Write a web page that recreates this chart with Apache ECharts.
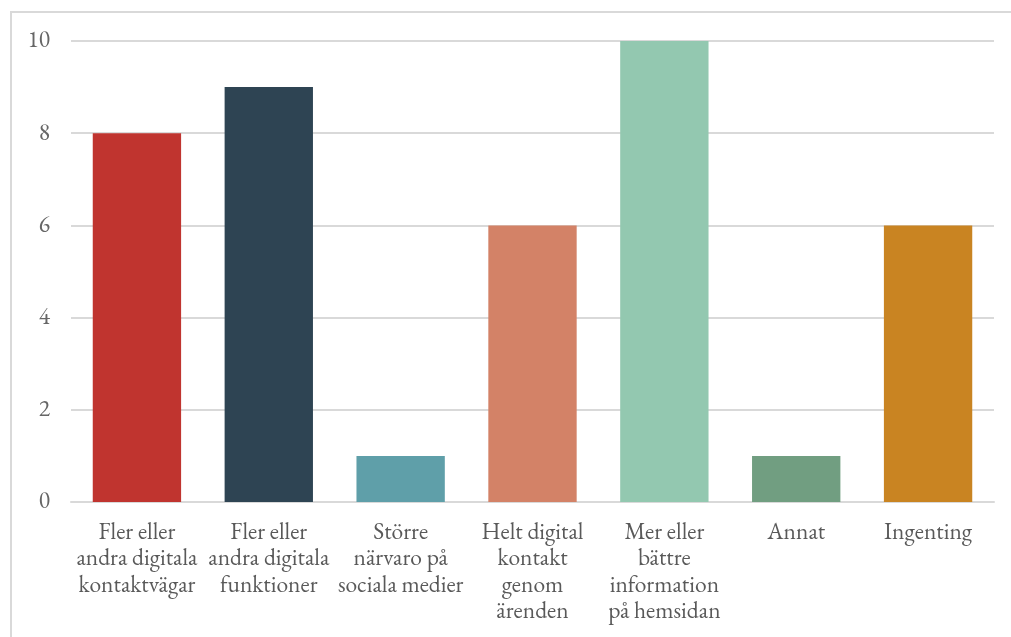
<!DOCTYPE html>
<html>
<head>
<meta charset="utf-8">
<script src="https://cdn.jsdelivr.net/npm/echarts@6/dist/echarts.min.js"></script>
<style>
  html, body { margin: 0; padding: 0; background: #fff; }
  #chart { width: 1011px; height: 637px; }
</style>
</head>
<body>
<div id="chart"></div>
<script>
// Categories (line breaks as displayed under each bar)
const categories = [
  'Fler eller\nandra digitala\nkontaktvägar',
  'Fler eller\nandra digitala\nfunktioner',
  'Större\nnärvaro på\nsociala medier',
  'Helt digital\nkontakt\ngenom\närenden',
  'Mer eller\nbättre\ninformation\npå hemsidan',
  'Annat',
  'Ingenting'
];
const values = [8, 9, 1, 6, 10, 1, 6];
const barColors = ['#C0342F', '#2E4453', '#5F9FA9', '#D38267', '#93C8B0', '#719E81', '#C98422'];
const yTicks = [0, 2, 4, 6, 8, 10];

const fontFamily = '"EB Garamond", Garamond, "Liberation Serif", "DejaVu Serif", serif';

const chart = echarts.init(document.getElementById('chart'), null, { renderer: 'canvas' });

chart.setOption({
  backgroundColor: '#ffffff',
  animation: false,
  graphic: [{
    type: 'rect',
    shape: { x: 11, y: 12, width: 1020, height: 640 },
    style: { fill: 'none', stroke: '#d9d9d9', lineWidth: 2 },
    silent: true
  }],
  grid: { left: 71, right: 17, top: 41, bottom: 135, containLabel: false },
  xAxis: {
    type: 'category',
    data: categories,
    axisLine: { show: true, lineStyle: { color: '#d9d9d9', width: 2 } },
    axisTick: { show: false },
    axisLabel: {
      interval: 0,
      margin: 17,
      color: '#595959',
      fontFamily: fontFamily,
      fontSize: 23.5,
      lineHeight: 26.5,
      align: 'center'
    }
  },
  yAxis: {
    type: 'value',
    min: yTicks[0],
    max: yTicks[yTicks.length - 1],
    interval: 2,
    axisLine: { show: false },
    axisTick: { show: false },
    splitLine: { lineStyle: { color: '#d9d9d9', width: 2 } },
    axisLabel: {
      margin: 21,
      color: '#666666',
      fontFamily: fontFamily,
      fontSize: 23.5
    }
  },
  series: [{
    type: 'bar',
    data: values.map((v, i) => ({ value: v, itemStyle: { color: barColors[i] } })),
    barWidth: '67%'
  }]
});
</script>
</body>
</html>
